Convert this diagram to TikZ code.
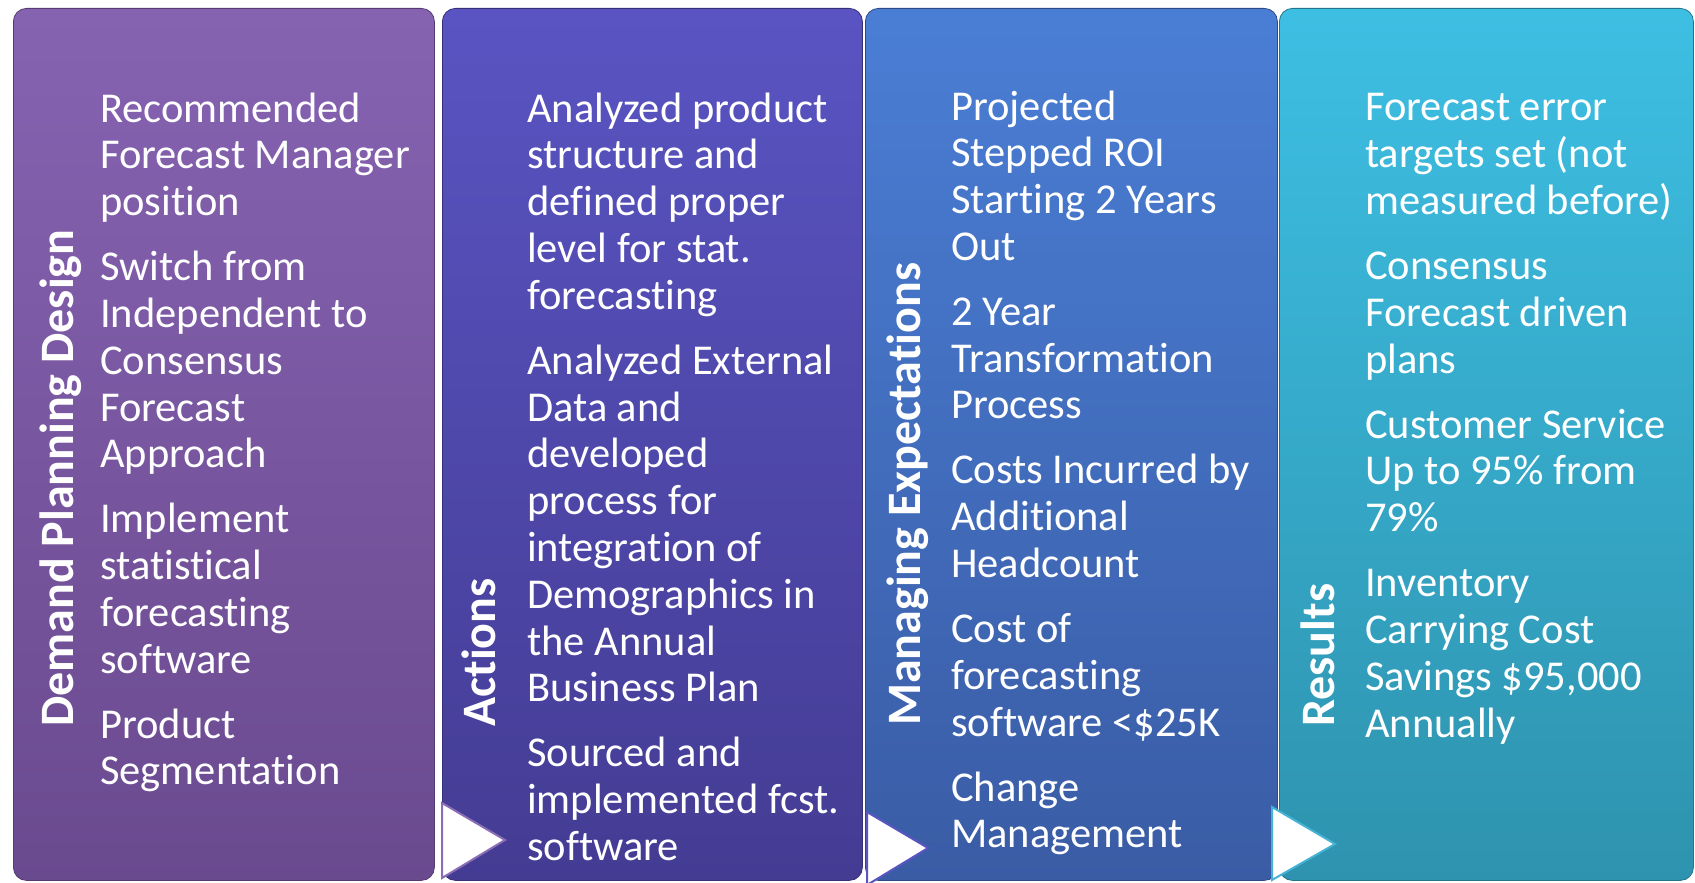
\documentclass[tikz,border=0pt]{standalone}
\usepackage{fontspec}
\setmainfont[Ligatures=NoCommon]{Carlito}
\definecolor{aTop}{HTML}{8663B1}
\definecolor{aBot}{HTML}{6A4A8F}
\definecolor{bTop}{HTML}{5954C2}
\definecolor{bBot}{HTML}{443C93}
\definecolor{cTop}{HTML}{4A7ED5}
\definecolor{cBot}{HTML}{3A5CA5}
\definecolor{dTop}{HTML}{3DBFE3}
\definecolor{dBot}{HTML}{2E93AE}
\definecolor{aEdge}{HTML}{8A6DB5}
\definecolor{bEdge}{HTML}{5B55C2}
\definecolor{cEdge}{HTML}{45B3D6}
\begin{document}
\begin{tikzpicture}[x=1pt,y=-1pt,
  colbox/.style={rounded corners=13pt, anchor=north west, inner sep=0pt, minimum height=872pt, line width=0.8pt},
  body/.style={anchor=base west, inner sep=0pt, text=white, font=\fontsize{42.5}{46.8}\selectfont},
  ttl/.style={rotate=90, anchor=base west, inner sep=0pt, text=white, font=\bfseries\fontsize{48}{58}\selectfont},
  tri/.style={fill=white, line width=2pt, line join=miter}]
\useasboundingbox (0,0) rectangle (1695,883);
% columns
\node[colbox, minimum width=421pt, top color=aTop, bottom color=aBot, draw=aBot!80!black] (c1) at (13,8) {};
\node[colbox, minimum width=420pt, top color=bTop, bottom color=bBot, draw=bBot!80!black] (c2) at (442,8) {};
\node[colbox, minimum width=412pt, top color=cTop, bottom color=cBot, draw=cBot!80!black] (c3) at (865,8) {};
\node[colbox, minimum width=414pt, top color=dTop, bottom color=dBot, draw=dBot!80!black] (c4) at (1279,8) {};
% triangles
\draw[tri, draw=aEdge] (442,803) -- (505,840) -- (442,878) -- cycle;
\draw[tri, draw=bEdge] (867,812) -- (928,848) -- (867,885) -- cycle;
\draw[tri, draw=cEdge] (1272,807) -- (1335,844) -- (1272,880) -- cycle;
% titles
\node[ttl] (t1) at (73,727) {Demand Planning Design};
\node[ttl] (t2) at (495,727) {Actions};
\node[ttl] (t3) at (920,726) {Managing Expectations};
\node[ttl] (t4) at (1334,727) {Results};
% bodies
\node[body] (b1) at (100,122) {\parbox[t]{330pt}{\raggedright
Recommended\\Forecast Manager\\position\\[18.2pt]
Switch from\\Independent to\\Consensus\\Forecast\\Approach\\[18.2pt]
Implement\\statistical\\forecasting\\software\\[18.2pt]
Product\\Segmentation}};
\node[body] (b2) at (527,122) {\parbox[t]{330pt}{\raggedright
Analyzed product\\structure and\\defined proper\\level for stat.\\forecasting\\[18.2pt]
Analyzed External\\Data and\\developed\\process for\\integration of\\Demographics in\\the Annual\\Business Plan\\[18.2pt]
Sourced and\\implemented fcst.\\software}};
\node[body] (b3) at (951,120) {\parbox[t]{320pt}{\raggedright
Projected\\Stepped ROI\\Starting 2 Years\\Out\\[18.2pt]
2 Year\\Transformation\\Process\\[18.2pt]
Costs Incurred by\\Additional\\Headcount\\[18.2pt]
Cost of\\forecasting\\software <\$25K\\[18.2pt]
Change\\Management}};
\node[body] (b4) at (1365,121) {\parbox[t]{320pt}{\raggedright
Forecast error\\targets set (not\\measured before)\\[18.2pt]
Consensus\\Forecast driven\\plans\\[18.2pt]
Customer Service\\Up to 95\% from\\79\%\\[18.2pt]
Inventory\\Carrying Cost\\Savings \$95,000\\Annually}};
\end{tikzpicture}
\end{document}
